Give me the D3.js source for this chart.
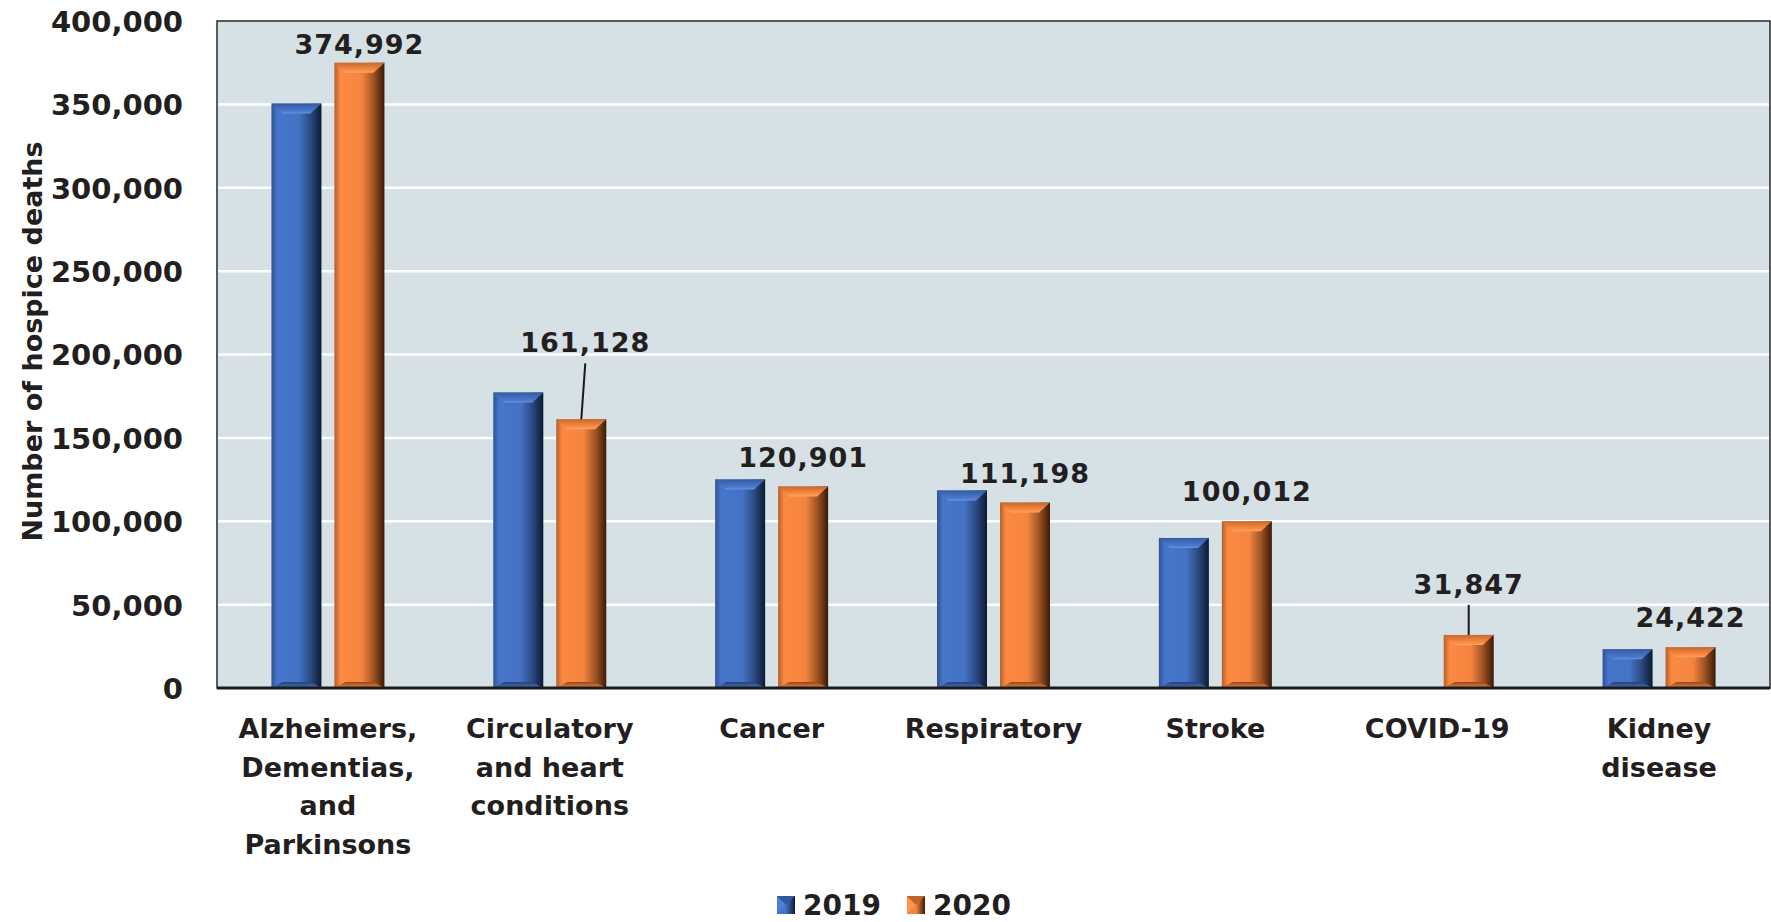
<!DOCTYPE html>
<html>
<head>
<meta charset="utf-8">
<script src="https://cdn.jsdelivr.net/npm/d3@7"></script>
<style>
  html, body { margin: 0; padding: 0; background: #ffffff; }
  svg { display: block; }
  text { font-family: "DejaVu Sans", sans-serif; font-weight: bold; fill: #231f20; }
</style>
</head>
<body>
<svg id="chart" width="1771" height="922"></svg>
<script>
// ---- data ----
const categories = [
  ["Alzheimers,", "Dementias,", "and", "Parkinsons"],
  ["Circulatory", "and heart", "conditions"],
  ["Cancer"],
  ["Respiratory"],
  ["Stroke"],
  ["COVID-19"],
  ["Kidney", "disease"]
];
const years = ["2019", "2020"];
const values2019 = [350500, 177200, 125100, 118500, 90000, null, 23200];
const values2020 = [374992, 161128, 120901, 111198, 100012, 31847, 24422];
const yTicks = [0, 50000, 100000, 150000, 200000, 250000, 300000, 350000, 400000];

// ---- layout / style (not data) ----
const plot = { left: 217, right: 1770, top: 21, bottom: 688 };
const colors = { "2019": "#4472c4", "2020": "#f4843f" };
const dark = { "2019": "#0c1a33", "2020": "#3a1a06" };
const light = { "2019": "#6f95d8", "2020": "#f9a870" };
const labelLift = [9, 67, 19, 20, 20, 41, 20]; // px above bar top for 2020 labels
const leader = [false, true, false, false, false, true, false];

const svg = d3.select("#chart");
const defs = svg.append("defs");

years.forEach(y => {
  const c = d3.color(colors[y]);
  const g = defs.append("linearGradient").attr("id", "body" + y)
    .attr("x1", "0").attr("x2", "1").attr("y1", "0").attr("y2", "0");
  g.append("stop").attr("offset", "0").attr("stop-color", d3.interpolateRgb(c, dark[y])(0.35));
  g.append("stop").attr("offset", "0.12").attr("stop-color", c.brighter(0.1));
  g.append("stop").attr("offset", "0.55").attr("stop-color", c);
  g.append("stop").attr("offset", "0.78").attr("stop-color", d3.interpolateRgb(c, dark[y])(0.45));
  g.append("stop").attr("offset", "1").attr("stop-color", dark[y]);

  const t = defs.append("linearGradient").attr("id", "top" + y)
    .attr("x1", "0").attr("x2", "0").attr("y1", "0").attr("y2", "1");
  t.append("stop").attr("offset", "0").attr("stop-color", d3.interpolateRgb(c, dark[y])(0.25));
  t.append("stop").attr("offset", "0.8").attr("stop-color", c.brighter(0.2));
  t.append("stop").attr("offset", "1").attr("stop-color", light[y]);

  const b = defs.append("linearGradient").attr("id", "bot" + y)
    .attr("x1", "0").attr("x2", "0").attr("y1", "0").attr("y2", "1");
  b.append("stop").attr("offset", "0").attr("stop-color", d3.interpolateRgb(c, dark[y])(0.55));
  b.append("stop").attr("offset", "1").attr("stop-color", c);

  const lg = defs.append("linearGradient").attr("id", "leg" + y)
    .attr("x1", "0").attr("x2", "1").attr("y1", "0").attr("y2", "0");
  lg.append("stop").attr("offset", "0").attr("stop-color", c);
  lg.append("stop").attr("offset", "0.5").attr("stop-color", c);
  lg.append("stop").attr("offset", "1").attr("stop-color", dark[y]);
});

// ---- scales ----
const x0 = d3.scaleBand().domain(d3.range(categories.length))
  .range([plot.left, plot.right]).paddingInner(0).paddingOuter(0);
const groupInner = 113;
const x1 = d3.scaleBand().domain(years)
  .range([x0.bandwidth() / 2 - groupInner / 2, x0.bandwidth() / 2 + groupInner / 2])
  .paddingInner(0.206).paddingOuter(0);
const y = d3.scaleLinear().domain([0, 400000]).range([plot.bottom, plot.top]);

// plot background
svg.append("rect").attr("x", plot.left).attr("y", plot.top)
  .attr("width", plot.right - plot.left).attr("height", plot.bottom - plot.top)
  .attr("fill", "#d6e1e5").attr("stroke", "#2a2a2a").attr("stroke-width", 1.5);

// gridlines
svg.append("g").selectAll("line").data(yTicks.filter(v => v > 0 && v < 400000)).join("line")
  .attr("x1", plot.left + 1).attr("x2", plot.right - 1)
  .attr("y1", d => y(d)).attr("y2", d => y(d))
  .attr("stroke", "#ffffff").attr("stroke-width", 2.5);

// y axis labels
const yAxis = d3.axisLeft(y).tickValues(yTicks).tickSize(0).tickPadding(0)
  .tickFormat(d3.format(","));
const ya = svg.append("g").attr("transform", `translate(${plot.left - 34},0)`).call(yAxis);
ya.select(".domain").remove();
ya.selectAll("text").attr("font-size", 29).attr("dy", "0.36em")
  .style("font-family", '"DejaVu Sans", sans-serif').style("font-weight", "bold").attr("fill", "#231f20");

// y axis title
svg.append("text")
  .attr("transform", `translate(42,${(plot.top + plot.bottom) / 2 - 13}) rotate(-90)`)
  .attr("text-anchor", "middle").attr("font-size", 27).text("Number of hospice deaths");

// bars
const series = years.map(yr => ({ year: yr, values: yr === "2019" ? values2019 : values2020 }));
const barsG = svg.append("g");
series.forEach(s => {
  s.values.forEach((v, i) => {
    if (v == null) return;
    const bx = x0(i) + x1(s.year), bw = x1.bandwidth();
    const by = y(v), bh = y(0) - y(v);
    const g = barsG.append("g");
    g.append("rect").attr("x", bx).attr("y", by).attr("width", bw).attr("height", bh)
      .attr("fill", `url(#body${s.year})`);
    const bev = Math.min(10, bh / 2.5), side = Math.min(11, bw / 3);
    g.append("path")
      .attr("d", `M${bx},${by} L${bx + bw},${by} L${bx + bw - side},${by + bev} L${bx + side},${by + bev} Z`)
      .attr("fill", `url(#top${s.year})`);
    const yb = y(0);
    g.append("path")
      .attr("d", `M${bx},${yb} L${bx + bw},${yb} L${bx + bw - side},${yb - bev * 0.6} L${bx + side},${yb - bev * 0.6} Z`)
      .attr("fill", `url(#bot${s.year})`);
  });
});

// bottom axis line
svg.append("line").attr("x1", plot.left).attr("x2", plot.right)
  .attr("y1", plot.bottom).attr("y2", plot.bottom)
  .attr("stroke", "#1a1a1a").attr("stroke-width", 3);

// data labels (2020)
values2020.forEach((v, i) => {
  const cx = x0(i) + x1("2020") + x1.bandwidth() / 2;
  const top = y(v);
  const ly = top - labelLift[i];
  const lx = i === 1 ? cx + 4 : cx;
  svg.append("text").attr("x", lx).attr("y", ly)
    .attr("text-anchor", "middle").attr("font-size", 27).attr("letter-spacing", 1)
    .text(d3.format(",")(v));
  if (leader[i]) {
    svg.append("line").attr("x1", lx).attr("y1", ly + 11).attr("x2", cx).attr("y2", top)
      .attr("stroke", "#1a1a1a").attr("stroke-width", 2);
  }
});

// x category labels
const xl = svg.append("g");
categories.forEach((lines, i) => {
  const cx = x0(i) + x0.bandwidth() / 2;
  const t = xl.append("text").attr("x", cx).attr("y", 738)
    .attr("text-anchor", "middle").attr("font-size", 27);
  lines.forEach((ln, k) => t.append("tspan").attr("x", cx)
    .attr("dy", k === 0 ? 0 : 38.5).text(ln));
});

// legend
const legend = svg.append("g");
const legX = [777, 907];
years.forEach((yr, k) => {
  const lx = legX[k];
  legend.append("rect").attr("x", lx).attr("y", 896).attr("width", 18).attr("height", 18)
    .attr("fill", `url(#leg${yr})`);
  legend.append("path")
    .attr("d", `M${lx},${896} L${lx + 9},${905} L${lx},${914} Z`)
    .attr("fill", d3.color(colors[yr]).brighter(0.3));
  legend.append("path")
    .attr("d", `M${lx},${896} L${lx + 18},${896} L${lx + 9},${905} Z`)
    .attr("fill", d3.interpolateRgb(colors[yr], dark[yr])(0.3));
  legend.append("text").attr("x", lx + 26).attr("y", 915).attr("font-size", 28).text(yr);
});
</script>
</body>
</html>
